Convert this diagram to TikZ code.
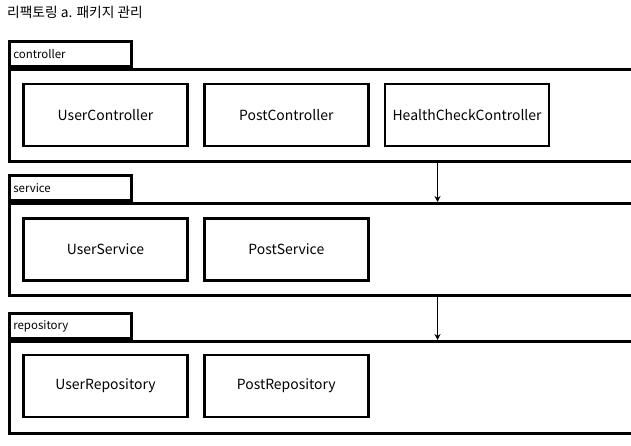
\documentclass[tikz,border=0pt]{standalone}
\usepackage{fontspec}
\setmainfont{Noto Sans CJK KR}
\usetikzlibrary{positioning, arrows.meta}
\tikzset{>={Stealth[length=6bp,width=6bp]}}
\tikzset{
  cls/.style={draw, line width=2.8pt, minimum width=164bp, minimum height=62bp, font=\fontsize{14}{16}\selectfont},
  pkgbody/.style={draw, line width=2.8pt, minimum width=660bp, minimum height=92bp, anchor=north west},
  pkgtab/.style={draw, line width=2.6pt, minimum width=122bp, minimum height=25bp, text width=114bp, inner xsep=4bp, align=left, anchor=south west, font=\fontsize{11.5}{13}\selectfont}
}

\begin{document}
\begin{tikzpicture}[x=1bp, y=-1bp]

	\useasboundingbox (0,0) rectangle (631,446);
	\clip (0,0) rectangle (631,446);

	\node [anchor=west, inner xsep=0pt, font=\fontsize{13.8}{15}\selectfont] (title) at (7,12.5) {리팩토링 a. 패키지 관리};

	% packages
	\node [pkgbody] (ctrl) at (8,68) {};
	\node [pkgtab] (ctrltab) at (ctrl.north west) {controller};
	\node [pkgbody] (svc) at (8,202) {};
	\node [pkgtab] (svctab) at (svc.north west) {service};
	\node [pkgbody] (repo) at (8,340) {};
	\node [pkgtab] (repotab) at (repo.north west) {repository};

	% classes
	\node [cls] (userctrl) at (105.5,115) {UserController};
	\node [cls, right=14bp of userctrl] (postctrl) {PostController};
	\node [cls, right=14bp of postctrl] (healthctrl) {HealthCheckController};

	\node [cls] (usersvc) at (105.5,249.5) {UserService};
	\node [cls, right=14bp of usersvc] (postsvc) {PostService};

	\node [cls] (userrepo) at (105.5,386) {UserRepository};
	\node [cls, right=14bp of userrepo] (postrepo) {PostRepository};

	% dependencies
	\draw [->, line width=1.5pt] ([xshift=429.5bp]ctrl.south west) -- ([xshift=429.5bp]svc.north west);
	\draw [->, line width=1.5pt] ([xshift=429.5bp]svc.south west) -- ([xshift=429.5bp]repo.north west);

\end{tikzpicture}
\end{document}
